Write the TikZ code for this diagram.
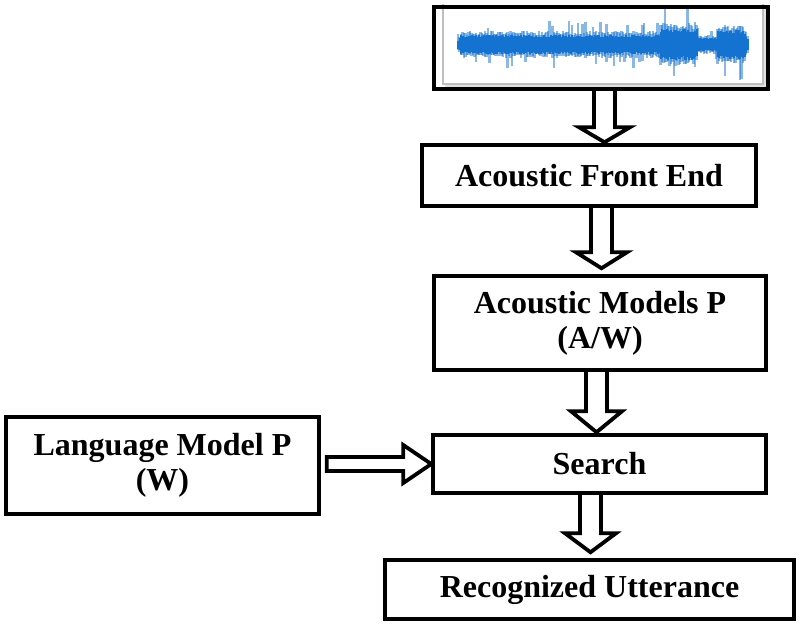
\documentclass[tikz,border=0pt]{standalone}
\usepackage{fontspec}
\setmainfont{Liberation Serif}
\usetikzlibrary{calc}
\definecolor{wavecol}{RGB}{20,114,208}

\tikzset{
  box/.style={draw, line width=3.5pt, inner sep=0pt, align=center,
    font=\fontsize{32}{35}\selectfont\bfseries},
  flowline/.style={draw, line width=3.8pt, line join=miter},
  wavecore/.style={wavecol, line width=2pt},
  wavefuzz/.style={wavecol, line width=2.2pt, opacity=0.5},
}

% downward block arrow: #1 x centre, #2 source node, #3 target node,
% #4 head length, #5 gap above target
\newcommand\vflow[5]{%
  \path[flowline] let \p1=(#2.south), \p2=(#3.north) in
    (#1pt-10.5pt,\y1) -- (#1pt-10.5pt,\y2+#5pt+#4pt) -- (#1pt-25.5pt,\y2+#5pt+#4pt)
    -- (#1pt,\y2+#5pt) -- (#1pt+25.5pt,\y2+#5pt+#4pt) -- (#1pt+10.5pt,\y2+#5pt+#4pt)
    -- (#1pt+10.5pt,\y1);}

\begin{document}
\begin{tikzpicture}[x=1pt,y=-1pt]
\useasboundingbox (0,0) rectangle (800,624);

% speech signal picture
\draw[black!25, line width=1.5pt] (443,4) -- (443,84) -- (763,84) -- (763,4);
\draw[black!12, line width=1.5pt] (445,86) -- (765,86) -- (765,6);
\pgfmathsetseed{11}
\foreach \x in {458,459.5,...,748}{
  \pgfmathsetmacro\e{((\x<660)*8.5+(\x>=660)*(\x<697)*14+(\x>=697)*(\x<717)*6+(\x>=717)*12.5)*min(1,(\x-455)/6,(750-\x)/6)}
  % fuzzy outer part with occasional spikes
  \pgfmathsetmacro\ha{\e*(1.1+0.5*rnd)*(rnd>0.86 ? 1.8 : 1)}
  \pgfmathsetmacro\hb{\e*(1.1+0.5*rnd)*(rnd>0.88 ? 1.8 : 1)}
  \draw[wavefuzz] (\x,44.5-\ha) -- (\x,44.5+\hb);
  % dense core
  \pgfmathsetmacro\ca{\e*(0.85+0.3*rnd)}
  \pgfmathsetmacro\cb{\e*(0.85+0.3*rnd)}
  \draw[wavecore] (\x,44.5-\ca) -- (\x,44.5+\cb);
}
\node[box, minimum width=334, minimum height=82] (wave) at (601,48) {};

% processing chain
\node[box, minimum width=334, minimum height=61] (fe) at (589,175.5) {Acoustic Front End};
\node[box, minimum width=332, minimum height=94] (am) at (600,323) {Acoustic Models P\\(A/W)};
\node[box, minimum width=333, minimum height=58] (search) at (599.5,464) {Search};
\node[box, minimum width=313, minimum height=97] (lm) at (162.5,465.5) {Language Model P\\(W)};
\node[box, minimum width=409, minimum height=59] (rec) at (589.5,589.5) {Recognized Utterance};

% block arrows
\vflow{604.5}{wave}{fe}{15}{1}
\vflow{601.5}{fe}{am}{16}{6}
\vflow{596.5}{am}{search}{21}{1}
\vflow{590.5}{search}{rec}{19}{6}
\path[flowline] let \p1=(lm.east), \p2=(search.west) in
  (\x1+6pt,\y2-7pt) -- (\x2-28pt,\y2-7pt) -- (\x2-28pt,\y2-19pt) -- (\x2,\y2)
  -- (\x2-28pt,\y2+19pt) -- (\x2-28pt,\y2+7pt) -- (\x1+6pt,\y2+7pt) -- cycle;
\end{tikzpicture}
\end{document}
